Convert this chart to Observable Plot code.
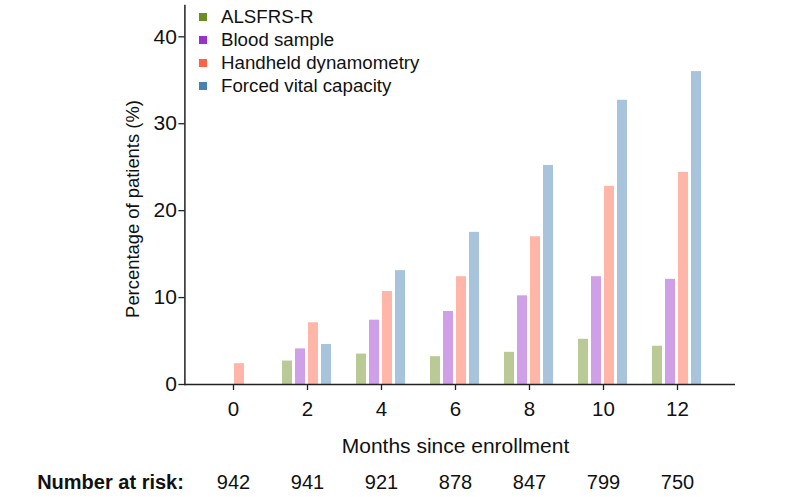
<!DOCTYPE html>
<html><head><meta charset="utf-8">
<script src="https://cdn.jsdelivr.net/npm/d3@7"></script>
<script src="https://cdn.jsdelivr.net/npm/@observablehq/plot@0.6"></script>
<style>
body{margin:0;background:#fff;}
#wrap{position:relative;width:800px;height:497px;font-family:"Liberation Sans",Arial,Helvetica,sans-serif;}
#legend{position:absolute;left:199px;top:5px;}
.row{display:flex;align-items:center;height:23px;font-size:18.7px;color:#111;white-space:nowrap}
.sw{width:8px;height:8px;margin-right:14px;flex:none}
</style></head><body><div id="wrap"><div id="legend"></div></div>
<script>
const months = [0, 2, 4, 6, 8, 10, 12];
const seriesNames = ["ALSFRS-R", "Blood sample", "Handheld dynamometry", "Forced vital capacity"];
const alsfrs = [null, 2.7, 3.5, 3.2, 3.7, 5.2, 4.4];
const bloodSample = [null, 4.1, 7.4, 8.4, 10.2, 12.4, 12.1];
const handheld = [2.4, 7.1, 10.7, 12.4, 17.0, 22.8, 24.4];
const fvc = [null, 4.6, 13.1, 17.5, 25.2, 32.7, 36.0];
const numberAtRisk = [942, 941, 921, 878, 847, 799, 750];
const colors = ["#6b8e23", "#9932cc", "#ff6347", "#4682b4"];
const yTicks = [0, 10, 20, 30, 40];

const seriesValues = [alsfrs, bloodSample, handheld, fvc];
const rows = [];
seriesValues.forEach((vals, s) => {
  vals.forEach((v, i) => {
    if (v != null) rows.push({month: months[i], series: seriesNames[s], value: v});
  });
});
const risk = months.map((m, i) => ({month: m, n: String(numberAtRisk[i])}));

const font = '"Liberation Sans", Arial, Helvetica, sans-serif';
// outer padding of the facet band scale (left/right), used to put the axis lines at the frame edges
const padL = 11.6, padR = 19.8;
const chart = Plot.plot({
  width: 800, height: 497,
  marginLeft: 183, marginRight: 63, marginTop: 5, marginBottom: 113,
  style: {fontFamily: font, color: "#111", background: "white", overflow: "visible"},
  fx: {domain: months, paddingInner: 0, paddingOuter: 0.21, align: 0.37, label: null},
  x: {domain: seriesNames, paddingInner: 0.21, paddingOuter: 0.79, axis: null},
  y: {domain: [0, 43.6], axis: null},
  color: {domain: seriesNames, range: colors},
  marks: [
    Plot.barY(rows, {fx: "month", x: "series", y: "value", fill: "series", fillOpacity: 0.47}),
    Plot.frame({anchor: "bottom", facet: "super", insetLeft: -padL, insetRight: -padR, stroke: "#222", strokeWidth: 1.5}),
    Plot.frame({anchor: "left", facet: "super", dx: -padL, stroke: "#222", strokeWidth: 1.5}),
    Plot.axisY(yTicks, {dx: -padL, tickSize: 6, tickPadding: 2, fontSize: 21, label: null, stroke: "#222", strokeWidth: 1.3}),
    Plot.axisFx({anchor: "bottom", tickSize: 6, tickPadding: 11, fontSize: 20.5, label: null, stroke: "#222", strokeWidth: 1.3}),
    Plot.text(["Percentage of patients (%)"], {facet: "super", frameAnchor: "left", textAnchor: "middle", rotate: -90, dx: -63, dy: 14, fontSize: 18.4}),
    Plot.text(["Months since enrollment"], {facet: "super", frameAnchor: "bottom", textAnchor: "middle", lineAnchor: "bottom", dy: 68, fontSize: 21}),
    Plot.text(risk, {fx: "month", text: "n", frameAnchor: "bottom", lineAnchor: "bottom", dy: 104, fontSize: 20}),
    Plot.text(["Number at risk:"], {facet: "super", frameAnchor: "bottom-left", textAnchor: "end", lineAnchor: "bottom", dx: -padL - 1, dy: 104, fontSize: 20, fontWeight: "bold"})
  ]
});
document.getElementById("wrap").appendChild(chart);

const legend = document.getElementById("legend");
seriesNames.forEach((name, i) => {
  const row = document.createElement("div");
  row.className = "row";
  const sw = document.createElement("span");
  sw.className = "sw";
  sw.style.background = colors[i];
  const label = document.createElement("span");
  label.textContent = name;
  row.appendChild(sw);
  row.appendChild(label);
  legend.appendChild(row);
});
</script>
</body></html>
